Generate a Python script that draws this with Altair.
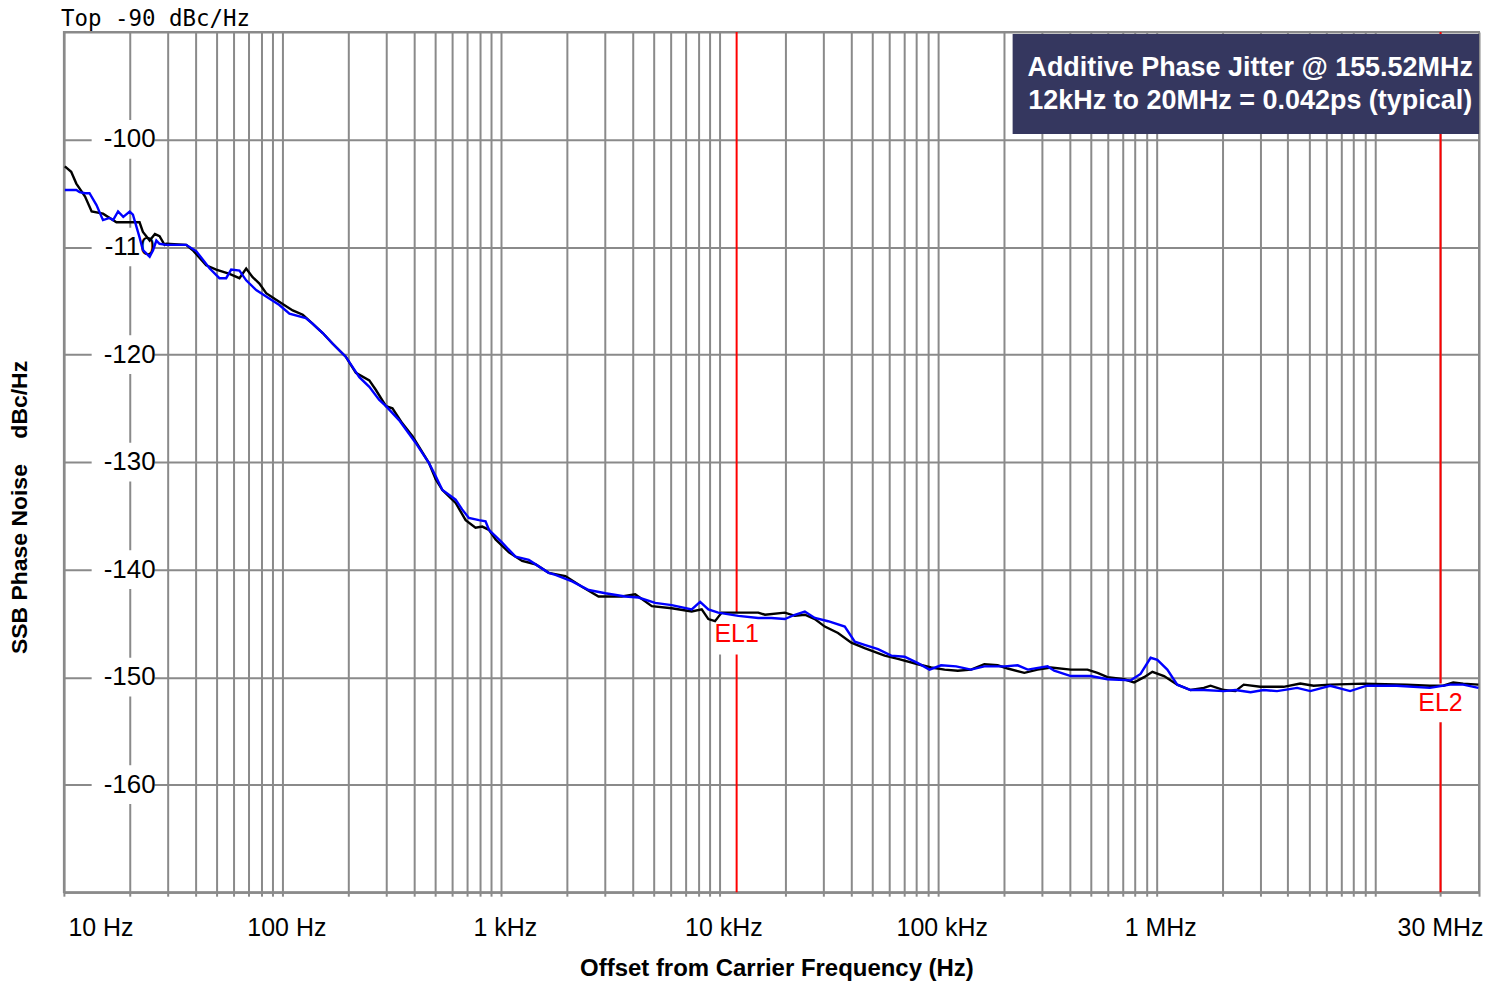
import altair as alt
import pandas as pd

# ---------------- data ----------------
freq_black = [10.1, 10.8, 11.4, 12.5, 13.4, 15.1, 17.4, 20.4, 22.2, 23.0,
              24.7, 26.1, 27.4, 28.9, 29.4, 36.3, 38.9, 44.8, 49.8, 57.3,
              63.6, 68.3, 73.1, 78.5, 84.3, 93.6, 111.5, 124, 137, 153,
              170, 195, 217, 250, 268, 298, 319, 354, 394, 469,
              503, 540, 621, 690, 766, 822, 882, 946, 1089, 1251,
              1439, 1656, 1974, 2350, 2800, 3578, 4121, 4909, 6057, 7475,
              8305, 8907, 9554, 10250, 12220, 15070, 16180, 19950, 22170, 24620,
              27350, 30390, 34930, 40180, 46220, 57100, 65670, 81100, 93200, 107400,
              123400, 141900, 163300, 187900, 208800, 248900, 286300, 329000, 406300, 484200,
              538000, 597600, 712500, 791300, 879400, 959400, 1.085e6, 1.247e6, 1.435e6, 1.651e6,
              1.771e6, 2.037e6, 2.302e6, 2.512e6, 2.992e6, 3.827e6, 4.56e6, 5.25e6, 6.25e6, 8.88e6,
              1.40e7, 1.787e7, 2.057e7, 2.286e7, 2.54e7, 2.98e7]
db_black = [-102.5, -103.0, -104.1, -105.3, -106.7, -106.9, -107.7, -107.7, -107.7, -108.6,
            -109.4, -108.8, -109.0, -109.8, -109.7, -109.8, -110.3, -111.7, -112.1, -112.5,
            -112.9, -112.0, -112.8, -113.4, -114.3, -114.9, -115.9, -116.3, -117.1, -118.0,
            -119.0, -120.2, -121.7, -122.4, -123.3, -124.8, -125.0, -126.4, -127.6, -130.1,
            -131.6, -132.6, -133.8, -135.4, -136.1, -136.0, -136.3, -137.2, -138.4, -139.2,
            -139.5, -140.3, -140.6, -141.6, -142.5, -142.5, -142.3, -143.4, -143.6, -143.9,
            -143.7, -144.6, -144.8, -144.0, -144.0, -144.0, -144.2, -144.0, -144.3, -144.2,
            -144.6, -145.3, -145.9, -146.8, -147.3, -148.0, -148.3, -148.8, -149.1, -149.3,
            -149.4, -149.3, -148.8, -148.9, -149.2, -149.6, -149.3, -149.1, -149.3, -149.3,
            -149.6, -150.0, -150.2, -150.5, -150.0, -149.5, -149.9, -150.7, -151.2, -151.0,
            -150.8, -151.2, -151.3, -150.7, -150.9, -150.9, -150.6, -150.8, -150.7, -150.6,
            -150.7, -150.8, -150.8, -150.5, -150.6, -150.7]

freq_blue = [10.1, 11.4, 11.8, 12.5, 13.1, 14.1, 15.1, 16.2, 16.8, 17.7,
             18.7, 20.0, 20.7, 22.2, 23.0, 24.7, 25.6, 26.5, 27.4, 29.4,
             36.3, 40.4, 46.5, 51.5, 55.3, 58.3, 63.6, 68.3, 75.9, 84.3,
             96.9, 107.7, 128, 137, 153, 170, 195, 225, 250, 277,
             298, 342, 407, 469, 503, 540, 621, 665, 714, 794,
             851, 882, 1014, 1167, 1343, 1656, 1778, 2119, 2524, 3008,
             3709, 4266, 5085, 6057, 7475, 8167, 8907, 9887, 12220, 15070,
             17320, 19950, 22170, 24620, 27350, 31470, 37510, 41690, 46220, 53240,
             61230, 70480, 81100, 91620, 103500, 121300, 141900, 163300, 202000, 232000,
             258000, 318000, 341000, 406300, 501000, 597600, 764000, 847000, 942000, 1.011e6,
             1.123e6, 1.247e6, 1.435e6, 1.651e6, 2.037e6, 2.302e6, 2.70e6, 3.10e6, 3.57e6, 4.41e6,
             5.07e6, 6.25e6, 7.71e6, 9.19e6, 1.259e7, 1.787e7, 2.21e7, 2.54e7, 2.98e7]
db_blue = [-104.7, -104.7, -104.9, -105.0, -105.0, -106.1, -107.5, -107.3, -107.5, -106.7,
           -107.2, -106.7, -107.0, -109.1, -110.3, -110.9, -110.3, -109.4, -109.7, -109.8,
           -109.8, -110.4, -112.0, -112.9, -112.9, -112.1, -112.2, -113.1, -114.0, -114.6,
           -115.4, -116.2, -116.6, -117.1, -118.0, -119.0, -120.2, -122.1, -123.0, -124.2,
           -124.8, -126.1, -128.2, -130.1, -131.3, -132.6, -133.5, -134.4, -135.2, -135.4,
           -135.5, -136.3, -137.5, -138.8, -139.1, -140.3, -140.5, -141.1, -141.9, -142.2,
           -142.5, -142.6, -143.1, -143.3, -143.7, -143.0, -143.7, -144.0, -144.3, -144.5,
           -144.5, -144.6, -144.2, -143.9, -144.5, -144.8, -145.3, -146.7, -147.0, -147.4,
           -148.0, -148.1, -148.7, -149.3, -148.9, -149.0, -149.3, -149.0, -149.0, -148.9,
           -149.3, -149.0, -149.4, -149.9, -149.9, -150.2, -150.3, -149.7, -148.2, -148.4,
           -149.3, -150.7, -151.2, -151.2, -151.3, -151.2, -151.4, -151.2, -151.3, -151.0,
           -151.3, -150.8, -151.3, -150.8, -150.8, -151.0, -150.7, -150.7, -151.0]

# axes / ticks
x_label_values = [10, 100, 1000, 10000, 100000, 1000000, 30000000]
x_label_texts = ["10 Hz", "100 Hz", "1 kHz", "10 kHz", "100 kHz", "1 MHz", "30 MHz"]
x_grid_values = [m * 10 ** k for k in range(1, 8) for m in range(1, 10) if m * 10 ** k <= 30000000]
y_grid_values = [-170, -160, -150, -140, -130, -120, -110, -100, -90]
y_label_values = [-100, -110, -120, -130, -140, -150, -160]
y_label_freq = 20           # labels sit on the 20 Hz grid line
y_label_box = [13.4, 26.0]  # label background extent (Hz)

top_text = "Top -90 dBc/Hz"
top_freq = 10
top_db = -90

# markers
marker_names = ["EL1", "EL2"]
marker_freqs = [12000, 20000000]
marker_text_db = [-146.0, -152.4]
marker_box_f = [[9230, 15900], [15.5e6, 26.3e6]]
marker_box_db = [[-147.9, -144.0], [-154.2, -150.6]]

# annotation
jitter_lines = ["Additive Phase Jitter @ 155.52MHz", "12kHz to 20MHz = 0.042ps (typical)"]
jitter_db = [-93.4, -96.4]
jitter_freq = 2.69e6
jitter_box_f = [2.2e5, 3e7]
jitter_box_db = [-99.5, -90.2]

GRID = "#8a8a8a"
FONT = "Liberation Sans"

label_expr = "".join(f"datum.value == {v} ? '{t}' : " for v, t in zip(x_label_values, x_label_texts)) + "''"

x_scale = alt.Scale(type="log", domain=[10, 30000000], nice=False)
y_scale = alt.Scale(domain=[-170, -90], nice=False, zero=False)

x_axis = alt.Axis(values=x_grid_values, labelExpr=label_expr, grid=True, gridColor=GRID,
                  gridWidth=2, gridOpacity=1, ticks=True, tickSize=4, tickWidth=2, tickColor=GRID,
                  domain=True, domainColor=GRID, domainWidth=2, labelFont=FONT, labelFontSize=25,
                  labelColor="black", labelFlush=True, labelOffset=4, labelOverlap=False,
                  labelBound=False, labelPadding=19,
                  title="Offset from Carrier Frequency (Hz)", titleFont=FONT, titleFontSize=24,
                  titleFontWeight="bold", titleColor="black", titleX=714, titleY=83,
                  titleBaseline="alphabetic")
y_axis = alt.Axis(values=y_grid_values, grid=True, gridColor=GRID, gridWidth=2, gridOpacity=1,
                  labels=False, ticks=False, domain=True, domainColor=GRID, domainWidth=2,
                  title="SSB Phase Noise\u00a0\u00a0\u00a0 dBc/Hz", titleFont=FONT, titleFontSize=23,
                  titleFontWeight="bold", titleColor="black", titleX=-44, titleY=476,
                  titleBaseline="middle", titleAngle=270)


def X():
    return alt.X("f:Q", scale=x_scale, axis=x_axis)


def Y():
    return alt.Y("v:Q", scale=y_scale, axis=y_axis)


df_black = pd.DataFrame({"f": freq_black, "v": db_black})
df_blue = pd.DataFrame({"f": freq_blue, "v": db_blue})

df_lbl = pd.DataFrame({"f": [y_label_freq] * len(y_label_values), "v": y_label_values,
                       "t": [str(v) for v in y_label_values]})
df_lbl_bg = pd.DataFrame({"f": [y_label_box[0]] * len(y_label_values),
                          "f2": [y_label_box[1]] * len(y_label_values),
                          "v": [v - 1.8 for v in y_label_values],
                          "v2": [v + 1.8 for v in y_label_values]})
df_top = pd.DataFrame({"f": [top_freq], "v": [top_db], "t": [top_text]})
df_mk = pd.DataFrame({"f": marker_freqs, "v": marker_text_db, "t": marker_names})
df_mk_bg = pd.DataFrame({"f": [b[0] for b in marker_box_f], "f2": [b[1] for b in marker_box_f],
                         "v": [b[0] for b in marker_box_db], "v2": [b[1] for b in marker_box_db]})
df_box = pd.DataFrame({"f": [jitter_box_f[0]], "f2": [jitter_box_f[1]],
                       "v": [jitter_box_db[0]], "v2": [jitter_box_db[1]]})
df_jit = pd.DataFrame({"f": [jitter_freq] * 2, "v": jitter_db, "t": jitter_lines})

lbl_bg = alt.Chart(df_lbl_bg).mark_rect(color="white").encode(x=X(), x2="f2", y=Y(), y2="v2")
lbl = alt.Chart(df_lbl).mark_text(font=FONT, fontSize=26, color="black", align="center",
                                  baseline="middle").encode(x=X(), y=Y(), text="t:N")
top = alt.Chart(df_top).mark_text(font="DejaVu Sans Mono", fontSize=22.5, color="black",
                                  align="left", baseline="alphabetic", dx=-3, dy=-5.5
                                  ).encode(x=X(), y=Y(), text="t:N")
rules = alt.Chart(df_mk).mark_rule(color="#ff0000", strokeWidth=2).encode(x=X())
mk_bg = alt.Chart(df_mk_bg).mark_rect(color="white").encode(x=X(), x2="f2", y=Y(), y2="v2")
mk = alt.Chart(df_mk).mark_text(font=FONT, fontSize=25, color="#ff0000", align="center",
                                baseline="middle").encode(x=X(), y=Y(), text="t:N")
box = alt.Chart(df_box).mark_rect(color="#35375f").encode(x=X(), x2="f2", y=Y(), y2="v2")
jit = alt.Chart(df_jit).mark_text(font=FONT, fontSize=27, fontWeight="bold", color="white",
                                  align="center", baseline="middle").encode(x=X(), y=Y(), text="t:N")
black = alt.Chart(df_black).mark_line(color="black", strokeWidth=2.4).encode(x=X(), y=Y())
blue = alt.Chart(df_blue).mark_line(color="#0000ff", strokeWidth=2.4).encode(x=X(), y=Y())

chart = alt.layer(lbl_bg, lbl, top, rules, mk_bg, mk, box, jit, black, blue).properties(
    width=1418, height=862,
    autosize=alt.AutoSizeParams(type="none"),
    padding={"left": 56, "top": 23, "right": 10, "bottom": 89},
    background="white",
).configure_view(stroke=GRID, strokeWidth=2)

chart.save("out.html", embed_options={"renderer": "svg", "actions": False})
